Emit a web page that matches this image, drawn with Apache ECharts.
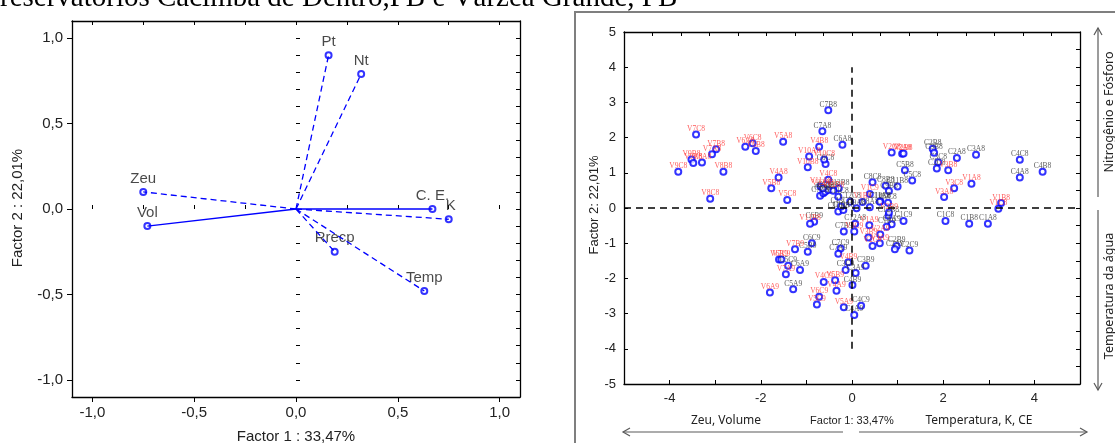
<!DOCTYPE html>
<html>
<head>
<meta charset="utf-8">
<script src="https://cdn.jsdelivr.net/npm/echarts@6/dist/echarts.min.js"></script>
<style>
  html, body { margin: 0; padding: 0; background: #fff; }
  #chart { width: 1115px; height: 443px; }
</style>
</head>
<body>
<div id="chart"></div>
<script>
// cargas das variáveis (painel esquerdo)
var loadNames = ['Zeu', 'Vol', 'Pt', 'Nt', 'C. E.', 'K', 'Rrecp', 'Temp'];
var loadF1 = [-0.75, -0.73, 0.16, 0.32, 0.67, 0.75, 0.19, 0.63];
var loadF2 = [0.10, -0.10, 0.90, 0.79, 0.00, -0.06, -0.25, -0.48];

// escores das amostras - Várzea Grande (rótulos vermelhos)
var vNames = ['V7C8','V6A8','V6C8','V6B8','V5A8','V7B8','V7A8','V9B8','V9A8','V8A8','V9C8','V8B8','V8C8','V4A8','V5B8','V5C8','V4B8','V10A8','V10B8','V10C8','V4C8','V11A8','V12B8','V2C8','V2A8','V2B8','V3B8','V1A8','V3C8','V3A8','V1B8','V1C8','V1C9','V1B9','V11B8','V7B9','V6B9','V7C9','V7A9','V6A9','V4C9','V6C9','V5C9','V5B9','V4A9','V5A9','V4B9','V3C9','V3B9','V1A9','V2A9','V3A9','V2C9','V2B9','V12A8'];
var vF1 = [-3.42,-2.34,-2.18,-2.11,-1.51,-2.98,-3.07,-3.52,-3.48,-3.29,-3.81,-2.82,-3.11,-1.61,-1.77,-1.42,-0.72,-0.94,-0.97,-0.61,-0.52,-0.69,-0.41,0.87,1.10,1.13,2.11,2.62,2.24,2.02,3.27,3.21,0.39,0.23,-0.92,-1.25,-1.60,-1.55,-1.45,-1.80,-0.62,-0.72,-0.77,-0.37,-0.34,-0.18,-0.08,0.05,0.36,0.38,0.62,0.61,0.45,0.81,-0.64];
var vF2 = [2.09,1.74,1.84,1.62,1.88,1.67,1.53,1.38,1.28,1.29,1.03,1.03,0.26,0.87,0.56,0.23,1.74,1.46,1.16,1.38,0.80,0.61,0.49,1.58,1.54,1.55,1.07,0.69,0.56,0.31,0.14,-0.02,0.40,0.17,-0.45,-1.17,-1.46,-1.46,-1.88,-2.40,-2.10,-2.52,-2.74,-2.05,-2.35,-2.82,-1.54,-0.67,-0.84,-0.49,-0.75,-1.00,-1.08,-0.13,0.56];

// escores das amostras - Cacimba de Dentro (rótulos escuros)
var cNames = ['C7B8','C7A8','C6A8','C6C8','C2B8','C3B8','C2A8','C3A8','C3C8','C2C8','C5B8','C5C8','C4C8','C4B8','C4A8','C8C8','C8B8','C9B8','C11B8','C10C8','C9C8','C8A8','C7C8','C5A8','C6B8','C11C8','C10B8','C10A8','C12C8','C9A8','C11A8','C6B9','C6C9','C5B9','C5C9','C6A9','C5A9','C4C9','C4A9','C4B9','C3A9','C3C9','C3B9','C7C9','C7A9','C7B9','C12A8','C12B8','C1C9','C1A9','C1B9','C2B9','C2A9','C2C9','C1C8','C1B8','C1A8','C13A8','C13B8','C13C8'];
var cF1 = [-0.52,-0.65,-0.21,-0.58,1.77,1.80,2.30,2.72,1.89,1.86,1.16,1.32,3.68,4.18,3.68,0.45,0.74,0.81,1.00,0.62,0.79,0.39,-0.70,-0.63,-0.59,-0.30,-0.30,-0.19,-0.04,0.10,0.61,-0.83,-0.88,-0.97,-1.40,-1.14,-1.29,0.20,0.05,0.01,0.08,-0.14,0.30,-0.25,-0.30,-0.18,0.07,0.80,1.13,0.87,0.76,0.98,0.94,1.26,2.05,2.57,2.98,-0.52,-0.29,-0.24];
var cF2 = [2.78,2.18,1.80,1.25,1.68,1.57,1.42,1.51,1.30,1.12,1.07,0.78,1.37,1.03,0.87,0.73,0.63,0.48,0.61,0.19,0.15,0.02,0.35,0.42,0.46,0.32,-0.10,-0.06,0.18,-0.01,0.18,-0.39,-1.00,-1.24,-1.64,-1.76,-2.31,-2.78,-3.04,-2.19,-1.85,-1.76,-1.64,-1.15,-1.30,-0.67,-0.45,-0.22,-0.37,-0.46,-0.53,-1.08,-1.17,-1.21,-0.37,-0.45,-0.45,0.51,0.56,0.04];

// marcas dos eixos
var leftTicks = [-1, -0.5, 0, 0.5, 1];
var rightXLabels = [-4, -2, 0, 2, 4];
var rightYLabels = [-5, -4, -3, -2, -1, 0, 1, 2, 3, 4, 5];

function steps(a, b, s) {
  var out = [];
  for (var v = a; v <= b + 1e-9; v += s) out.push(Math.round(v * 1000) / 1000);
  return out;
}
function comma(v) { return v.toFixed(1).replace('.', ','); }

var blue = '#0000ff';
var sans = '"Liberation Sans", Arial, sans-serif';
var serif = '"Liberation Serif", "Times New Roman", serif';
var solidVars = ['Vol', 'C. E.'];
var labelShift = { 'K': [2, 0] };

var gLeft = { left: 72, top: 21, width: 448, height: 376 };
var gRight = { left: 624, top: 32, width: 456, height: 352 };

function frameAxis(grid, pos, ticks, extra) {
  return Object.assign({
    type: 'value', gridIndex: grid, position: pos,
    splitLine: { show: false },
    axisLine: { show: true, onZero: false, lineStyle: { color: '#000', width: 1.3 } },
    axisTick: { show: true, inside: true, length: 4, customValues: ticks, lineStyle: { color: '#000' } },
    axisLabel: { show: false }
  }, extra);
}

var xAxes = [
  frameAxis(0, 'bottom', leftTicks, {
    min: -1.1, max: 1.1,
    axisTick: { show: true, inside: false, length: 5, customValues: leftTicks, lineStyle: { color: '#000' } },
    axisLabel: { show: true, customValues: leftTicks, formatter: comma, fontSize: 15, fontFamily: sans, color: '#222', margin: 8 }
  }),
  frameAxis(1, 'top', steps(-1, 1, 0.25), { min: -1.1, max: 1.1 }),
  frameAxis(1, 'bottom', steps(-1, 1, 0.25), { min: -1.1, max: 1.1, axisLine: { show: false } }),
  frameAxis(2, 'bottom', steps(-4, 4, 1), {
    min: -5, max: 5,
    axisLabel: { show: true, customValues: rightXLabels, fontSize: 13, fontFamily: sans, color: '#222', margin: 8 }
  }),
  frameAxis(3, 'top', steps(-5, 5, 0.625), { min: -5, max: 5 })
];
var yAxes = [
  frameAxis(0, 'left', leftTicks, {
    min: -1.1, max: 1.1,
    axisTick: { show: true, inside: false, length: 5, customValues: leftTicks, lineStyle: { color: '#000' } },
    axisLabel: { show: true, customValues: leftTicks, formatter: comma, fontSize: 15, fontFamily: sans, color: '#222', margin: 9 }
  }),
  frameAxis(1, 'left', steps(-1.1, 1.1, 0.1), { min: -1.1, max: 1.1, axisLine: { show: false } }),
  frameAxis(1, 'right', steps(-1.1, 1.1, 0.1), { min: -1.1, max: 1.1 }),
  frameAxis(2, 'left', steps(-5, 5, 1), {
    min: -5, max: 5,
    axisLabel: { show: true, customValues: rightYLabels, fontSize: 13, fontFamily: sans, color: '#222', margin: 8 }
  }),
  frameAxis(3, 'right', steps(-5, 5, 0.5), { min: -5, max: 5 })
];

var series = [];
loadNames.forEach(function(n, i) {
  series.push({
    type: 'line', xAxisIndex: 0, yAxisIndex: 0, symbol: 'none', silent: true,
    data: [[0, 0], [loadF1[i], loadF2[i]]],
    lineStyle: { color: blue, width: 1.3, type: solidVars.indexOf(n) >= 0 ? 'solid' : [6, 4] }
  });
});
series.push({
  type: 'scatter', xAxisIndex: 0, yAxisIndex: 0,
  symbol: 'emptyCircle', symbolSize: 6,
  itemStyle: { color: blue, borderColor: blue, borderWidth: 1.2 },
  data: loadNames.map(function(n, i) {
    return { value: [loadF1[i], loadF2[i], n], label: { offset: labelShift[n] || [0, 0] } };
  }),
  label: { show: true, position: 'top', distance: 2, formatter: function(p) { return p.data.value[2]; },
           fontSize: 15, fontFamily: sans, color: '#1a1a1a' }
});

function scoreSeries(names, f1, f2, col) {
  return {
    type: 'scatter', xAxisIndex: 3, yAxisIndex: 3,
    symbol: 'emptyCircle', symbolSize: 6,
    itemStyle: { color: blue, borderColor: blue, borderWidth: 1.4 },
    data: names.map(function(n, i) { return [f1[i], f2[i], n]; }),
    label: { show: true, position: 'top', distance: -2.5, formatter: function(p) { return p.data[2]; },
             fontSize: 7.5, fontFamily: serif, color: col },
    z: 3
  };
}
series.push({
  type: 'line', xAxisIndex: 3, yAxisIndex: 3, data: [], symbol: 'none',
  markLine: {
    silent: true, symbol: 'none', label: { show: false },
    lineStyle: { color: '#000', width: 1.5, type: [7, 5] },
    data: [
      [{ coord: [-5, 0] }, { coord: [5, 0] }],
      [{ coord: [0, -4] }, { coord: [0, 4] }]
    ]
  }
});
series.push(scoreSeries(cNames, cF1, cF2, '#333333'));
series.push(scoreSeries(vNames, vF1, vF2, '#ff3535'));

var gray = '#5a5a5a';
var noto = '"Noto Sans", sans-serif';
var graphic = [
  { type: 'text', x: 0, y: 13, style: { text: 'reservatórios Cacimba de Dentro,PB e Várzea Grande, PB',
      font: '29px ' + serif, fill: '#000', verticalAlign: 'bottom' } },
  { type: 'rect', shape: { x: 575, y: 12, width: 600, height: 460 }, style: { fill: 'none', stroke: '#7f7f7f', lineWidth: 2 } },
  // títulos dos eixos, painel esquerdo
  { type: 'text', x: 18, y: 208, rotation: Math.PI / 2, style: { text: 'Factor 2 : 22,01%', font: '15px ' + sans,
      fill: '#222', align: 'center', verticalAlign: 'middle' } },
  { type: 'text', x: 296, y: 437, style: { text: 'Factor 1 : 33,47%', font: '15px ' + sans,
      fill: '#222', align: 'center', verticalAlign: 'middle' } },
  // painel direito
  { type: 'text', x: 594, y: 205, rotation: Math.PI / 2, style: { text: 'Factor 2: 22,01%', font: '13px ' + sans,
      fill: '#222', align: 'center', verticalAlign: 'middle' } },
  { type: 'text', x: 726, y: 421, style: { text: 'Zeu, Volume', font: '12px ' + noto,
      fill: '#222', align: 'center', verticalAlign: 'middle' } },
  { type: 'text', x: 852, y: 421, style: { text: 'Factor 1: 33,47%', font: '11px ' + sans,
      fill: '#222', align: 'center', verticalAlign: 'middle' } },
  { type: 'text', x: 979, y: 421, style: { text: 'Temperatura, K, CE', font: '12px ' + noto,
      fill: '#222', align: 'center', verticalAlign: 'middle' } },
  { type: 'text', x: 1109, y: 112, rotation: Math.PI / 2, style: { text: 'Nitrogênio e Fósforo', font: '12.5px ' + noto,
      fill: '#222', align: 'center', verticalAlign: 'middle' } },
  { type: 'text', x: 1109, y: 296, rotation: Math.PI / 2, style: { text: 'Temperatura da água', font: '12.5px ' + noto,
      fill: '#222', align: 'center', verticalAlign: 'middle' } },
  // setas
  { type: 'line', shape: { x1: 843, y1: 432, x2: 623, y2: 432 }, style: { stroke: gray, lineWidth: 1.2 } },
  { type: 'polyline', shape: { points: [[630, 428], [623, 432], [630, 436]] }, style: { stroke: gray, lineWidth: 1.2, fill: 'none' } },
  { type: 'line', shape: { x1: 859, y1: 432, x2: 1087, y2: 432 }, style: { stroke: gray, lineWidth: 1.2 } },
  { type: 'polyline', shape: { points: [[1080, 428], [1087, 432], [1080, 436]] }, style: { stroke: gray, lineWidth: 1.2, fill: 'none' } },
  { type: 'line', shape: { x1: 1098, y1: 197, x2: 1098, y2: 28 }, style: { stroke: gray, lineWidth: 1.2 } },
  { type: 'polyline', shape: { points: [[1094, 35], [1098, 28], [1102, 35]] }, style: { stroke: gray, lineWidth: 1.2, fill: 'none' } },
  { type: 'line', shape: { x1: 1098, y1: 210, x2: 1098, y2: 390 }, style: { stroke: gray, lineWidth: 1.2 } },
  { type: 'polyline', shape: { points: [[1094, 383], [1098, 390], [1102, 383]] }, style: { stroke: gray, lineWidth: 1.2, fill: 'none' } }
];

var chart = echarts.init(document.getElementById('chart'));
chart.setOption({
  animation: false,
  backgroundColor: '#fff',
  grid: [gLeft, gLeft, gRight, gRight],
  xAxis: xAxes,
  yAxis: yAxes,
  series: series,
  graphic: graphic
});
</script>
</body>
</html>
